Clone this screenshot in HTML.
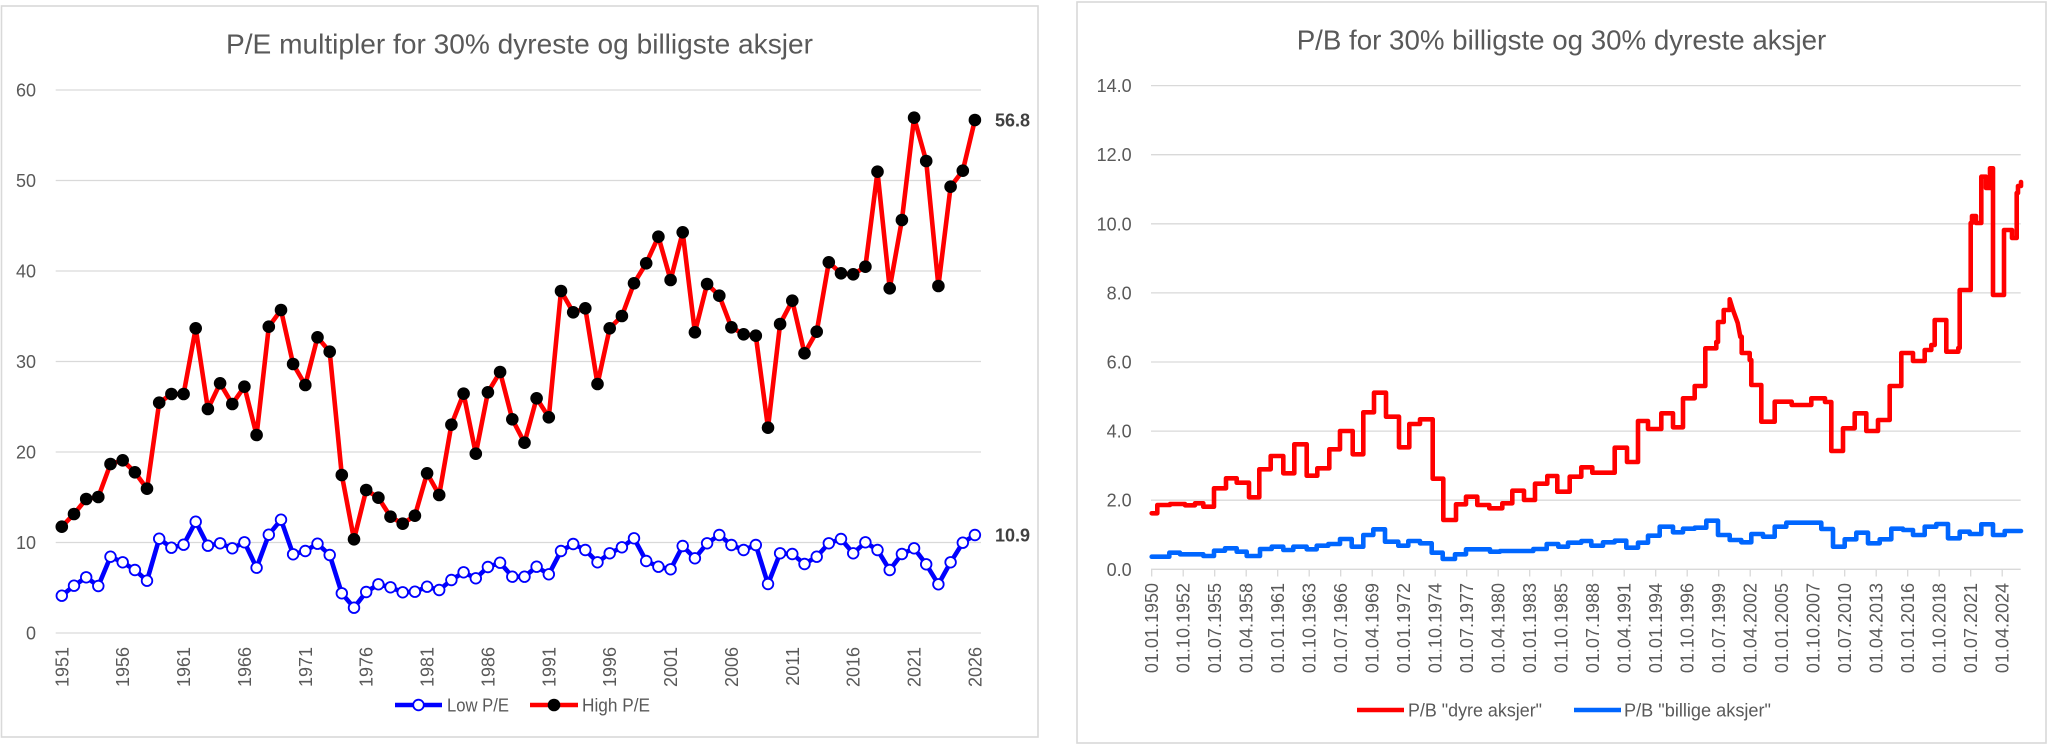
<!DOCTYPE html>
<html>
<head>
<meta charset="utf-8">
<style>
html,body{margin:0;padding:0;background:#fff;}
svg{display:block;}
text{font-family:"Liberation Sans",sans-serif;fill:#595959;}
</style>
</head>
<body>
<svg width="2048" height="745" viewBox="0 0 2048 745" xmlns="http://www.w3.org/2000/svg">
<rect x="0" y="0" width="2048" height="745" fill="#fff"/>
<!-- ============ LEFT CHART ============ -->
<rect x="1.5" y="6" width="1036.5" height="731" fill="#fff" stroke="#d9d9d9" stroke-width="1.6"/>
<text x="519.5" y="53.3" font-size="28" text-anchor="middle" textLength="587" lengthAdjust="spacingAndGlyphs">P/E multipler for 30% dyreste og billigste aksjer</text>
<g stroke="#d9d9d9" stroke-width="1.3">
<line x1="55.7" y1="90" x2="981" y2="90"/>
<line x1="55.7" y1="180.5" x2="981" y2="180.5"/>
<line x1="55.7" y1="271" x2="981" y2="271"/>
<line x1="55.7" y1="361.5" x2="981" y2="361.5"/>
<line x1="55.7" y1="452" x2="981" y2="452"/>
<line x1="55.7" y1="542.5" x2="981" y2="542.5"/>
<line x1="55.7" y1="633" x2="981" y2="633"/>
</g>
<g font-size="18" text-anchor="end">
<text x="36" y="96.5">60</text>
<text x="36" y="187">50</text>
<text x="36" y="277.5">40</text>
<text x="36" y="368">30</text>
<text x="36" y="458.5">20</text>
<text x="36" y="549">10</text>
<text x="36" y="639.5">0</text>
</g>
<g font-size="18" text-anchor="end">
<text transform="translate(68.3,647) rotate(-90)">1951</text>
<text transform="translate(129.2,647) rotate(-90)">1956</text>
<text transform="translate(190.1,647) rotate(-90)">1961</text>
<text transform="translate(250.9,647) rotate(-90)">1966</text>
<text transform="translate(311.8,647) rotate(-90)">1971</text>
<text transform="translate(372.7,647) rotate(-90)">1976</text>
<text transform="translate(433.6,647) rotate(-90)">1981</text>
<text transform="translate(494.4,647) rotate(-90)">1986</text>
<text transform="translate(555.3,647) rotate(-90)">1991</text>
<text transform="translate(616.2,647) rotate(-90)">1996</text>
<text transform="translate(677.1,647) rotate(-90)">2001</text>
<text transform="translate(737.9,647) rotate(-90)">2006</text>
<text transform="translate(798.8,647) rotate(-90)">2011</text>
<text transform="translate(859.7,647) rotate(-90)">2016</text>
<text transform="translate(920.6,647) rotate(-90)">2021</text>
<text transform="translate(981.4,647) rotate(-90)">2026</text>
</g>
<!-- Low P/E line -->
<polyline fill="none" stroke="#0000ff" stroke-width="4.6" stroke-linejoin="round" stroke-linecap="round" points="61.8,595.7 74.0,585.7 86.2,577.3 98.3,586 110.5,556.7 122.7,562.3 134.9,570 147.0,580.7 159.2,538.7 171.4,547.7 183.6,544.7 195.7,521.7 207.9,545.7 220.1,543.3 232.3,548.3 244.4,542.3 256.6,567.7 268.8,534.7 281.0,519.7 293.1,554.3 305.3,551 317.5,543.7 329.7,555 341.8,593.3 354.0,607.7 366.2,592 378.4,584.3 390.5,587.3 402.7,592.3 414.9,591.7 427.1,586.7 439.2,590 451.4,580 463.6,572.3 475.8,578.3 487.9,567 500.1,562.7 512.3,576.7 524.5,576.7 536.6,566.7 548.8,574.3 561.0,551 573.2,544 585.3,550 597.5,562.3 609.7,553.3 621.9,547.3 634.0,538.3 646.2,561 658.4,566.7 670.6,569.3 682.7,546 694.9,558.3 707.1,543.3 719.3,535 731.4,545 743.6,550 755.8,545 768.0,584 780.1,553.3 792.3,554 804.5,564 816.7,556.7 828.8,543.3 841.0,539 853.2,553.3 865.4,542.3 877.5,550 889.7,570 901.9,554 914.1,548.3 926.2,564.3 938.4,584.3 950.6,562.3 962.8,542.7 974.9,535"/>
<g fill="#fff" stroke="#0000ff" stroke-width="1.8">
<circle cx="61.8" cy="595.7" r="5.3"/><circle cx="74.0" cy="585.7" r="5.3"/><circle cx="86.2" cy="577.3" r="5.3"/><circle cx="98.3" cy="586" r="5.3"/><circle cx="110.5" cy="556.7" r="5.3"/><circle cx="122.7" cy="562.3" r="5.3"/><circle cx="134.9" cy="570" r="5.3"/><circle cx="147.0" cy="580.7" r="5.3"/><circle cx="159.2" cy="538.7" r="5.3"/><circle cx="171.4" cy="547.7" r="5.3"/><circle cx="183.6" cy="544.7" r="5.3"/><circle cx="195.7" cy="521.7" r="5.3"/><circle cx="207.9" cy="545.7" r="5.3"/><circle cx="220.1" cy="543.3" r="5.3"/><circle cx="232.3" cy="548.3" r="5.3"/><circle cx="244.4" cy="542.3" r="5.3"/><circle cx="256.6" cy="567.7" r="5.3"/><circle cx="268.8" cy="534.7" r="5.3"/><circle cx="281.0" cy="519.7" r="5.3"/><circle cx="293.1" cy="554.3" r="5.3"/><circle cx="305.3" cy="551" r="5.3"/><circle cx="317.5" cy="543.7" r="5.3"/><circle cx="329.7" cy="555" r="5.3"/><circle cx="341.8" cy="593.3" r="5.3"/><circle cx="354.0" cy="607.7" r="5.3"/><circle cx="366.2" cy="592" r="5.3"/><circle cx="378.4" cy="584.3" r="5.3"/><circle cx="390.5" cy="587.3" r="5.3"/><circle cx="402.7" cy="592.3" r="5.3"/><circle cx="414.9" cy="591.7" r="5.3"/><circle cx="427.1" cy="586.7" r="5.3"/><circle cx="439.2" cy="590" r="5.3"/><circle cx="451.4" cy="580" r="5.3"/><circle cx="463.6" cy="572.3" r="5.3"/><circle cx="475.8" cy="578.3" r="5.3"/><circle cx="487.9" cy="567" r="5.3"/><circle cx="500.1" cy="562.7" r="5.3"/><circle cx="512.3" cy="576.7" r="5.3"/><circle cx="524.5" cy="576.7" r="5.3"/><circle cx="536.6" cy="566.7" r="5.3"/><circle cx="548.8" cy="574.3" r="5.3"/><circle cx="561.0" cy="551" r="5.3"/><circle cx="573.2" cy="544" r="5.3"/><circle cx="585.3" cy="550" r="5.3"/><circle cx="597.5" cy="562.3" r="5.3"/><circle cx="609.7" cy="553.3" r="5.3"/><circle cx="621.9" cy="547.3" r="5.3"/><circle cx="634.0" cy="538.3" r="5.3"/><circle cx="646.2" cy="561" r="5.3"/><circle cx="658.4" cy="566.7" r="5.3"/><circle cx="670.6" cy="569.3" r="5.3"/><circle cx="682.7" cy="546" r="5.3"/><circle cx="694.9" cy="558.3" r="5.3"/><circle cx="707.1" cy="543.3" r="5.3"/><circle cx="719.3" cy="535" r="5.3"/><circle cx="731.4" cy="545" r="5.3"/><circle cx="743.6" cy="550" r="5.3"/><circle cx="755.8" cy="545" r="5.3"/><circle cx="768.0" cy="584" r="5.3"/><circle cx="780.1" cy="553.3" r="5.3"/><circle cx="792.3" cy="554" r="5.3"/><circle cx="804.5" cy="564" r="5.3"/><circle cx="816.7" cy="556.7" r="5.3"/><circle cx="828.8" cy="543.3" r="5.3"/><circle cx="841.0" cy="539" r="5.3"/><circle cx="853.2" cy="553.3" r="5.3"/><circle cx="865.4" cy="542.3" r="5.3"/><circle cx="877.5" cy="550" r="5.3"/><circle cx="889.7" cy="570" r="5.3"/><circle cx="901.9" cy="554" r="5.3"/><circle cx="914.1" cy="548.3" r="5.3"/><circle cx="926.2" cy="564.3" r="5.3"/><circle cx="938.4" cy="584.3" r="5.3"/><circle cx="950.6" cy="562.3" r="5.3"/><circle cx="962.8" cy="542.7" r="5.3"/><circle cx="974.9" cy="535" r="5.3"/>
</g>
<!-- High P/E line -->
<polyline fill="none" stroke="#ff0000" stroke-width="4.6" stroke-linejoin="round" stroke-linecap="round" points="61.8,526.7 74.0,514 86.2,499 98.3,497 110.5,464 122.7,460.3 134.9,472.3 147.0,488.7 159.2,402.7 171.4,394 183.6,394 195.7,328.3 207.9,409 220.1,383.3 232.3,404 244.4,386.7 256.6,435 268.8,326.7 281.0,310 293.1,364 305.3,385 317.5,337.3 329.7,351.7 341.8,475 354.0,539.3 366.2,490 378.4,497.7 390.5,516.7 402.7,523.7 414.9,515.7 427.1,473.3 439.2,495 451.4,424.7 463.6,393.7 475.8,453.7 487.9,392.3 500.1,372 512.3,419.3 524.5,442.7 536.6,398.3 548.8,417.3 561.0,291 573.2,312.3 585.3,308.3 597.5,384 609.7,328.3 621.9,316 634.0,283.3 646.2,263.3 658.4,236.7 670.6,280 682.7,232.3 694.9,332.3 707.1,284 719.3,295.7 731.4,327.3 743.6,334.3 755.8,335.7 768.0,427.7 780.1,324 792.3,300.7 804.5,353.3 816.7,331.7 828.8,262.3 841.0,273.3 853.2,274.3 865.4,266.7 877.5,171.7 889.7,288.3 901.9,220 914.1,117.7 926.2,161 938.4,286 950.6,186.7 962.8,170.7 974.9,120"/>
<g fill="#000">
<circle cx="61.8" cy="526.7" r="6.3"/><circle cx="74.0" cy="514" r="6.3"/><circle cx="86.2" cy="499" r="6.3"/><circle cx="98.3" cy="497" r="6.3"/><circle cx="110.5" cy="464" r="6.3"/><circle cx="122.7" cy="460.3" r="6.3"/><circle cx="134.9" cy="472.3" r="6.3"/><circle cx="147.0" cy="488.7" r="6.3"/><circle cx="159.2" cy="402.7" r="6.3"/><circle cx="171.4" cy="394" r="6.3"/><circle cx="183.6" cy="394" r="6.3"/><circle cx="195.7" cy="328.3" r="6.3"/><circle cx="207.9" cy="409" r="6.3"/><circle cx="220.1" cy="383.3" r="6.3"/><circle cx="232.3" cy="404" r="6.3"/><circle cx="244.4" cy="386.7" r="6.3"/><circle cx="256.6" cy="435" r="6.3"/><circle cx="268.8" cy="326.7" r="6.3"/><circle cx="281.0" cy="310" r="6.3"/><circle cx="293.1" cy="364" r="6.3"/><circle cx="305.3" cy="385" r="6.3"/><circle cx="317.5" cy="337.3" r="6.3"/><circle cx="329.7" cy="351.7" r="6.3"/><circle cx="341.8" cy="475" r="6.3"/><circle cx="354.0" cy="539.3" r="6.3"/><circle cx="366.2" cy="490" r="6.3"/><circle cx="378.4" cy="497.7" r="6.3"/><circle cx="390.5" cy="516.7" r="6.3"/><circle cx="402.7" cy="523.7" r="6.3"/><circle cx="414.9" cy="515.7" r="6.3"/><circle cx="427.1" cy="473.3" r="6.3"/><circle cx="439.2" cy="495" r="6.3"/><circle cx="451.4" cy="424.7" r="6.3"/><circle cx="463.6" cy="393.7" r="6.3"/><circle cx="475.8" cy="453.7" r="6.3"/><circle cx="487.9" cy="392.3" r="6.3"/><circle cx="500.1" cy="372" r="6.3"/><circle cx="512.3" cy="419.3" r="6.3"/><circle cx="524.5" cy="442.7" r="6.3"/><circle cx="536.6" cy="398.3" r="6.3"/><circle cx="548.8" cy="417.3" r="6.3"/><circle cx="561.0" cy="291" r="6.3"/><circle cx="573.2" cy="312.3" r="6.3"/><circle cx="585.3" cy="308.3" r="6.3"/><circle cx="597.5" cy="384" r="6.3"/><circle cx="609.7" cy="328.3" r="6.3"/><circle cx="621.9" cy="316" r="6.3"/><circle cx="634.0" cy="283.3" r="6.3"/><circle cx="646.2" cy="263.3" r="6.3"/><circle cx="658.4" cy="236.7" r="6.3"/><circle cx="670.6" cy="280" r="6.3"/><circle cx="682.7" cy="232.3" r="6.3"/><circle cx="694.9" cy="332.3" r="6.3"/><circle cx="707.1" cy="284" r="6.3"/><circle cx="719.3" cy="295.7" r="6.3"/><circle cx="731.4" cy="327.3" r="6.3"/><circle cx="743.6" cy="334.3" r="6.3"/><circle cx="755.8" cy="335.7" r="6.3"/><circle cx="768.0" cy="427.7" r="6.3"/><circle cx="780.1" cy="324" r="6.3"/><circle cx="792.3" cy="300.7" r="6.3"/><circle cx="804.5" cy="353.3" r="6.3"/><circle cx="816.7" cy="331.7" r="6.3"/><circle cx="828.8" cy="262.3" r="6.3"/><circle cx="841.0" cy="273.3" r="6.3"/><circle cx="853.2" cy="274.3" r="6.3"/><circle cx="865.4" cy="266.7" r="6.3"/><circle cx="877.5" cy="171.7" r="6.3"/><circle cx="889.7" cy="288.3" r="6.3"/><circle cx="901.9" cy="220" r="6.3"/><circle cx="914.1" cy="117.7" r="6.3"/><circle cx="926.2" cy="161" r="6.3"/><circle cx="938.4" cy="286" r="6.3"/><circle cx="950.6" cy="186.7" r="6.3"/><circle cx="962.8" cy="170.7" r="6.3"/><circle cx="974.9" cy="120" r="6.3"/>
</g>
<text x="995" y="126.5" font-size="18" font-weight="bold" style="fill:#404040">56.8</text>
<text x="995" y="541.5" font-size="18" font-weight="bold" style="fill:#404040">10.9</text>
<!-- legend left -->
<line x1="395" y1="705" x2="442" y2="705" stroke="#0000ff" stroke-width="4.6"/>
<circle cx="418.5" cy="705" r="5.3" fill="#fff" stroke="#0000ff" stroke-width="1.8"/>
<text x="447" y="711.7" font-size="18" textLength="62" lengthAdjust="spacingAndGlyphs">Low P/E</text>
<line x1="530" y1="705" x2="578" y2="705" stroke="#ff0000" stroke-width="4.6"/>
<circle cx="554" cy="705" r="6.3" fill="#000"/>
<text x="582" y="711.7" font-size="18" textLength="68" lengthAdjust="spacingAndGlyphs">High P/E</text>

<!-- ============ RIGHT CHART ============ -->
<rect x="1077" y="2" width="969" height="741" fill="#fff" stroke="#d9d9d9" stroke-width="1.6"/>
<text x="1561.5" y="49.3" font-size="28" text-anchor="middle" textLength="529.6" lengthAdjust="spacingAndGlyphs">P/B for 30% billigste og 30% dyreste aksjer</text>
<g stroke="#d9d9d9" stroke-width="1.3">
<line x1="1151" y1="85.6" x2="2020.7" y2="85.6"/>
<line x1="1151" y1="154.7" x2="2020.7" y2="154.7"/>
<line x1="1151" y1="223.8" x2="2020.7" y2="223.8"/>
<line x1="1151" y1="292.9" x2="2020.7" y2="292.9"/>
<line x1="1151" y1="362" x2="2020.7" y2="362"/>
<line x1="1151" y1="431.1" x2="2020.7" y2="431.1"/>
<line x1="1151" y1="500.2" x2="2020.7" y2="500.2"/>
<line x1="1151" y1="569.3" x2="2020.7" y2="569.3"/>
</g>
<g stroke="#d9d9d9" stroke-width="1.3">
<line x1="1151.7" y1="569.3" x2="1151.7" y2="576.5"/><line x1="1183.2" y1="569.3" x2="1183.2" y2="576.5"/><line x1="1214.7" y1="569.3" x2="1214.7" y2="576.5"/><line x1="1246.2" y1="569.3" x2="1246.2" y2="576.5"/><line x1="1277.7" y1="569.3" x2="1277.7" y2="576.5"/><line x1="1309.2" y1="569.3" x2="1309.2" y2="576.5"/><line x1="1340.7" y1="569.3" x2="1340.7" y2="576.5"/><line x1="1372.2" y1="569.3" x2="1372.2" y2="576.5"/><line x1="1403.7" y1="569.3" x2="1403.7" y2="576.5"/><line x1="1435.2" y1="569.3" x2="1435.2" y2="576.5"/><line x1="1466.7" y1="569.3" x2="1466.7" y2="576.5"/><line x1="1498.2" y1="569.3" x2="1498.2" y2="576.5"/><line x1="1529.7" y1="569.3" x2="1529.7" y2="576.5"/><line x1="1561.2" y1="569.3" x2="1561.2" y2="576.5"/><line x1="1592.7" y1="569.3" x2="1592.7" y2="576.5"/><line x1="1624.2" y1="569.3" x2="1624.2" y2="576.5"/><line x1="1655.7" y1="569.3" x2="1655.7" y2="576.5"/><line x1="1687.2" y1="569.3" x2="1687.2" y2="576.5"/><line x1="1718.7" y1="569.3" x2="1718.7" y2="576.5"/><line x1="1750.2" y1="569.3" x2="1750.2" y2="576.5"/><line x1="1781.7" y1="569.3" x2="1781.7" y2="576.5"/><line x1="1813.2" y1="569.3" x2="1813.2" y2="576.5"/><line x1="1844.7" y1="569.3" x2="1844.7" y2="576.5"/><line x1="1876.2" y1="569.3" x2="1876.2" y2="576.5"/><line x1="1907.7" y1="569.3" x2="1907.7" y2="576.5"/><line x1="1939.2" y1="569.3" x2="1939.2" y2="576.5"/><line x1="1970.7" y1="569.3" x2="1970.7" y2="576.5"/><line x1="2002.2" y1="569.3" x2="2002.2" y2="576.5"/>
</g>
<g font-size="18" text-anchor="end">
<text x="1131.7" y="92.1">14.0</text>
<text x="1131.7" y="161.2">12.0</text>
<text x="1131.7" y="230.3">10.0</text>
<text x="1131.7" y="299.4">8.0</text>
<text x="1131.7" y="368.5">6.0</text>
<text x="1131.7" y="437.6">4.0</text>
<text x="1131.7" y="506.7">2.0</text>
<text x="1131.7" y="575.8">0.0</text>
</g>
<g font-size="18" text-anchor="end">
<text transform="translate(1158.2,583) rotate(-90)">01.01.1950</text>
<text transform="translate(1189.7,583) rotate(-90)">01.10.1952</text>
<text transform="translate(1221.2,583) rotate(-90)">01.07.1955</text>
<text transform="translate(1252.7,583) rotate(-90)">01.04.1958</text>
<text transform="translate(1284.2,583) rotate(-90)">01.01.1961</text>
<text transform="translate(1315.7,583) rotate(-90)">01.10.1963</text>
<text transform="translate(1347.2,583) rotate(-90)">01.07.1966</text>
<text transform="translate(1378.7,583) rotate(-90)">01.04.1969</text>
<text transform="translate(1410.2,583) rotate(-90)">01.01.1972</text>
<text transform="translate(1441.7,583) rotate(-90)">01.10.1974</text>
<text transform="translate(1473.2,583) rotate(-90)">01.07.1977</text>
<text transform="translate(1504.7,583) rotate(-90)">01.04.1980</text>
<text transform="translate(1536.2,583) rotate(-90)">01.01.1983</text>
<text transform="translate(1567.7,583) rotate(-90)">01.10.1985</text>
<text transform="translate(1599.2,583) rotate(-90)">01.07.1988</text>
<text transform="translate(1630.7,583) rotate(-90)">01.04.1991</text>
<text transform="translate(1662.2,583) rotate(-90)">01.01.1994</text>
<text transform="translate(1693.7,583) rotate(-90)">01.10.1996</text>
<text transform="translate(1725.2,583) rotate(-90)">01.07.1999</text>
<text transform="translate(1756.7,583) rotate(-90)">01.04.2002</text>
<text transform="translate(1788.2,583) rotate(-90)">01.01.2005</text>
<text transform="translate(1819.7,583) rotate(-90)">01.10.2007</text>
<text transform="translate(1851.2,583) rotate(-90)">01.07.2010</text>
<text transform="translate(1882.7,583) rotate(-90)">01.04.2013</text>
<text transform="translate(1914.2,583) rotate(-90)">01.01.2016</text>
<text transform="translate(1945.7,583) rotate(-90)">01.10.2018</text>
<text transform="translate(1977.2,583) rotate(-90)">01.07.2021</text>
<text transform="translate(2008.7,583) rotate(-90)">01.04.2024</text>
</g>
<!-- P/B cheap (blue) -->
<path fill="none" stroke="#0066ff" stroke-width="4.6" stroke-linejoin="round" stroke-linecap="round" d="M1151.7 556.7 H1169.3 V552.7 H1180 V554.3 H1203.3 V556 H1214 V550.7 H1225 V548.3 H1236.7 V551.7 H1246.7 V556 H1260 V549 H1271.7 V546.7 H1283.3 V550 H1293.3 V546.7 H1306.7 V549.3 H1316.7 V545.7 H1328.3 V544 H1340 V539 H1351.7 V546.7 H1363.3 V535 H1373.3 V529.3 H1385 V541.7 H1398.3 V545.7 H1408.3 V541 H1420 V543.3 H1431.7 V552.7 H1442.7 V559 H1455 V554.3 H1466 V549.3 H1490 V551.7 H1500 V551 H1533.3 V549 H1546.7 V544 H1558.3 V546.7 H1568 V542.7 H1581.3 V541 H1591.3 V545.7 H1603 V542.3 H1614.7 V540.7 H1626.3 V547.7 H1638 V542.7 H1648 V535.7 H1659.7 V526.7 H1673 V532.3 H1683 V528.7 H1694.7 V527.7 H1706.3 V520.7 H1718 V535 H1729.7 V540 H1741.3 V542.3 H1751.3 V534 H1763 V536.7 H1774.7 V526.7 H1786.3 V522.7 H1821.3 V529 H1833 V546.7 H1844.7 V539.3 H1856.3 V532.7 H1868 V543.3 H1879.7 V539.3 H1891.3 V528.7 H1903 V530 H1913 V535 H1924.7 V526.7 H1936.3 V524 H1948 V538.3 H1959.7 V531.7 H1969.7 V534 H1981.3 V524.3 H1993 V535 H2004.7 V531 H2021"/>
<!-- P/B expensive (red) -->
<path fill="none" stroke="#ff0000" stroke-width="4.6" stroke-linejoin="round" stroke-linecap="round" d="M1151.7 513.3 H1157.3 V505 H1170 V504 H1185 V505.3 H1195 V503.3 H1203.3 V506.7 H1214 V488.3 H1226 V478.3 H1236.7 V482.7 H1249 V497.3 H1259.3 V469.3 H1270.7 V456 H1283.3 V473.3 H1294.3 V444.3 H1306.7 V475.7 H1317.3 V468.3 H1329.3 V449.3 H1340 V431 H1352.7 V454.3 H1363.3 V412.3 H1374 V392.7 H1386 V416.7 H1399 V447.3 H1409.3 V424 H1420 V419.3 H1432.7 V478.7 H1443.3 V520 H1456 V504.3 H1466 V496.7 H1477.3 V505 H1489.3 V508.3 H1502.3 V503.3 H1512.3 V490.7 H1524 V500 H1535 V483.7 H1547.3 V476 H1557.3 V491.7 H1569.7 V476.7 H1581.3 V467.3 H1592.3 V472.7 H1614.7 V447.7 H1627 V462 H1638 V421 H1648 V429 H1661.3 V413.3 H1673 V427.3 H1683 V398.3 H1694.7 V386 H1705.3 V348.3 H1716.3 V342 H1718 V322 H1723.7 V310 H1729.7 V299.3 L1733 310 L1737.7 323 L1740.3 336.7 H1741.7 V353 H1749.7 V360 H1751.3 V385 H1761.3 V421.7 H1774.7 V401.7 H1791.7 V405 H1811.3 V398.3 H1825 V402 H1831.3 V451 H1843 V428.3 H1854.7 V413.3 H1866.3 V431 H1878 V420 H1889.7 V386 H1901.3 V353 H1913 V361 H1924.7 V350 H1931.3 V345 H1934.7 V320 H1946.3 V351.7 H1958.3 V348 H1959.7 V290 H1970.7 V223 H1972 V216 H1976 V223 H1981.3 V176.7 H1986 V188 H1990 V168.3 H1993 V295 H2004 V230 H2012 V238 H2016.7 V193 H2018 V186 H2021 V182"/>
<!-- legend right -->
<line x1="1357" y1="710" x2="1404" y2="710" stroke="#ff0000" stroke-width="4.6"/>
<text x="1408" y="716.7" font-size="18" textLength="134" lengthAdjust="spacingAndGlyphs">P/B "dyre aksjer"</text>
<line x1="1574" y1="710" x2="1621" y2="710" stroke="#0066ff" stroke-width="4.6"/>
<text x="1624" y="716.7" font-size="18" textLength="147" lengthAdjust="spacingAndGlyphs">P/B "billige aksjer"</text>
</svg>
</body>
</html>
